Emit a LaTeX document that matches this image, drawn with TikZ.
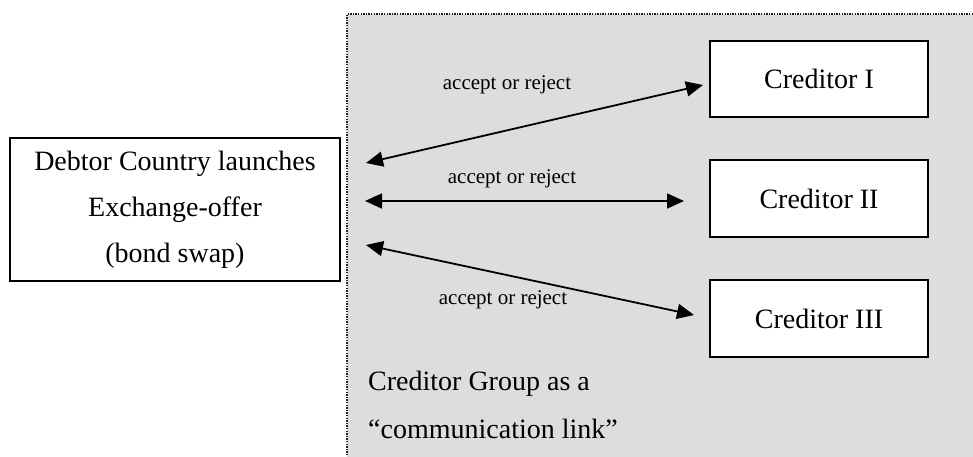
\documentclass[tikz,border=0pt]{standalone}
\usepackage{fontspec}
\setmainfont{Liberation Serif}
\usetikzlibrary{arrows.meta}
\definecolor{panelgray}{RGB}{221,221,221}
\definecolor{dotgray}{RGB}{30,30,30}
\tikzset{
  bigtext/.style={font=\fontsize{28}{46}\selectfont},
  smalltext/.style={font=\fontsize{21}{25}\selectfont, anchor=base, inner sep=0pt},
  boxnode/.style={draw=black, line width=1.3pt, fill=white, bigtext, align=center, inner sep=0pt},
  twoway/.style={line width=1.8pt, {Triangle[length=17pt,width=15pt]}-{Triangle[length=17pt,width=15pt]}}
}
\begin{document}
\begin{tikzpicture}[x=1pt,y=-1pt]
\useasboundingbox (0,0) rectangle (973,457);
% panel
\fill[panelgray] (347,14) rectangle (973,457);
\draw[dotgray, line width=1.4pt, dash pattern=on 1.4pt off 1.2pt] (973,14) -- (347,14) -- (347,457);
% boxes
\node[boxnode, minimum width=330pt, minimum height=143pt] (debtor) at (175,209.5)
  {Debtor Country launches\\Exchange-offer\\(bond swap)};
\node[boxnode, minimum width=218pt, minimum height=76pt] (c1) at (819,79) {Creditor I};
\node[boxnode, minimum width=218pt, minimum height=77pt] (c2) at (819,198.5) {Creditor II};
\node[boxnode, minimum width=218pt, minimum height=77pt] (c3) at (819,318.5) {Creditor III};
% arrow ends
\coordinate (a1s) at (366,163);
\coordinate (a1e) at (703,85);
\coordinate (a2s) at (365,201);
\coordinate (a2e) at (684,201);
\coordinate (a3s) at (366,245);
\coordinate (a3e) at (694,315);
\draw[twoway] (a1s) -- (a1e);
\draw[twoway] (a2s) -- (a2e);
\draw[twoway] (a3s) -- (a3e);
% labels
\node[smalltext] (l1) at (507,90) {accept or reject};
\node[smalltext] (l2) at (512,183) {accept or reject};
\node[smalltext] (l3) at (503,304) {accept or reject};
\node[bigtext, anchor=base west, inner sep=0pt] (g1) at (368,390) {Creditor Group as a};
\node[bigtext, anchor=base west, inner sep=0pt] (g2) at (368,438) {“communication link”};
\end{tikzpicture}
\end{document}
